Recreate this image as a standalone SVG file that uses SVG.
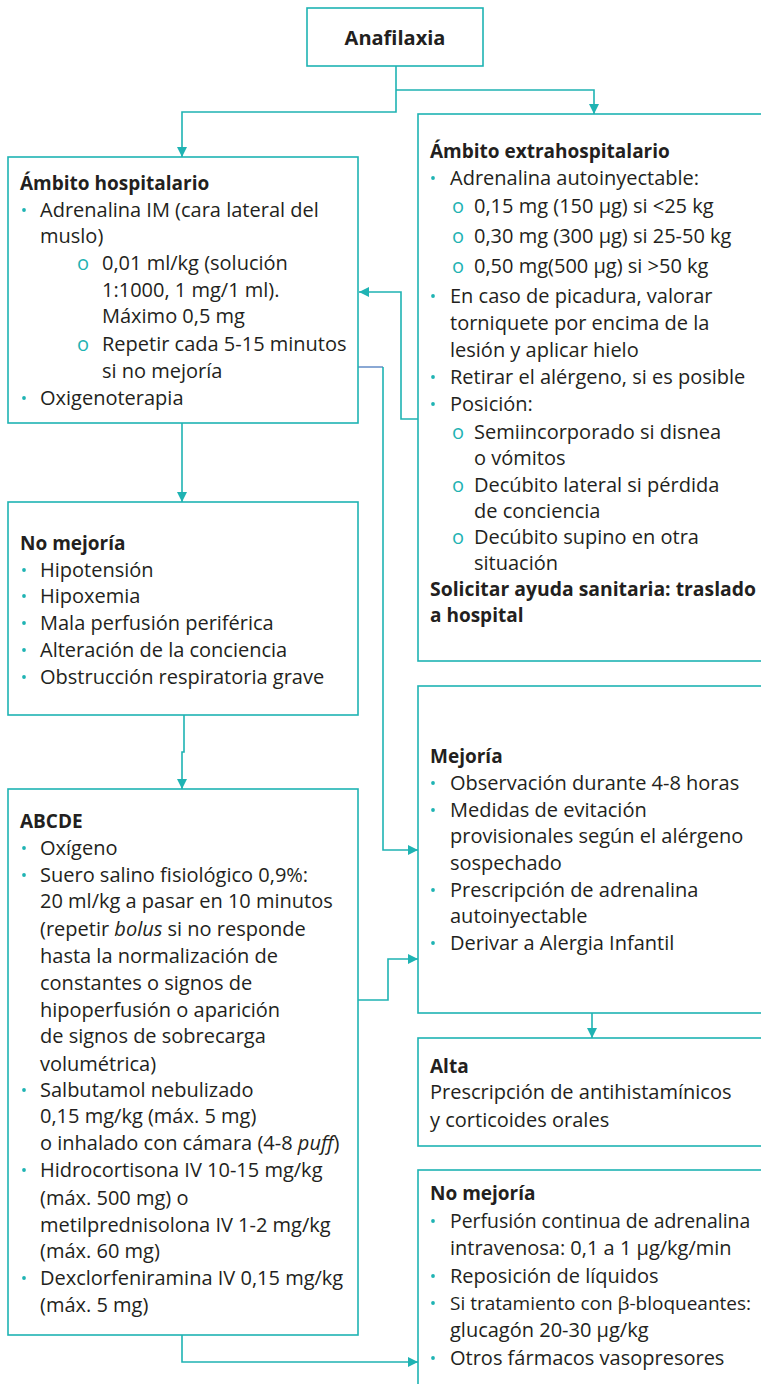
<svg xmlns="http://www.w3.org/2000/svg" width="761" height="1384" viewBox="0 0 761 1384">
<style>
.box{fill:#fff;stroke:#1fb3b3;stroke-width:1.6}
.c{fill:none;stroke:#1fb3b3;stroke-width:1.6}
.cb{fill:none;stroke:#3d6fb8;stroke-width:1.2}
text{font-family:"Open Sans","Noto Sans",sans-serif;font-size:20px;fill:#231f20}
.h{font-weight:700;font-size:19px}
.o{fill:#1fb3b3}
.d{fill:#1fb3b3}
</style>
<defs>
<marker id="ar" markerUnits="userSpaceOnUse" markerWidth="10" markerHeight="10" refX="10" refY="5" orient="auto">
<path d="M0,0 L10,5 L0,10 z" fill="#1fb3b3"/>
</marker>
</defs>

<g id="connectors">
<path class="c" d="M396,66 V112 H182 V157" marker-end="url(#ar)"/>
<path class="c" d="M396,90 H594 V114" marker-end="url(#ar)"/>
<path class="c" d="M418,419 H401 V292 H359" marker-end="url(#ar)"/>
<path class="cb" d="M358,367 H383"/>
<path class="c" d="M383,367 V850 H418" marker-end="url(#ar)"/>
<path class="c" d="M182,423 V502" marker-end="url(#ar)"/>
<path class="c" d="M184,715 V752 H182 V789" marker-end="url(#ar)"/>
<path class="c" d="M358,1000 H388 V959 H418" marker-end="url(#ar)"/>
<path class="c" d="M182,1335 V1362 H418" marker-end="url(#ar)"/>
<path class="c" d="M592,1013 V1038" marker-end="url(#ar)"/>
</g>

<g id="anafilaxia">
<rect class="box" x="307" y="8" width="176" height="58"/>
<text class="h" x="395" y="45" text-anchor="middle" style="font-size:20px">Anafilaxia</text>
</g>

<g id="hospitalario">
<rect class="box" x="8" y="157" width="350" height="266"/>
<text class="h" x="20" y="190">Ámbito hospitalario</text>
<circle class="d" cx="24" cy="210" r="1.9"/>
<text x="40" y="217">Adrenalina IM (cara lateral del</text>
<text x="40" y="243">muslo)</text>
<text class="o" x="77" y="270">o</text>
<text x="102" y="270">0,01 ml/kg (solución</text>
<text x="102" y="297">1:1000, 1 mg/1 ml).</text>
<text x="102" y="323">Máximo 0,5 mg</text>
<text class="o" x="77" y="351">o</text>
<text x="102" y="351">Repetir cada 5-15 minutos</text>
<text x="102" y="378">si no mejoría</text>
<circle class="d" cx="24" cy="398" r="1.9"/>
<text x="40" y="405">Oxigenoterapia</text>
</g>

<g id="extrahospitalario">
<rect class="box" x="418" y="114" width="360" height="547"/>
<text class="h" x="430" y="158">Ámbito extrahospitalario</text>
<circle class="d" cx="433" cy="178" r="1.9"/>
<text x="450" y="185">Adrenalina autoinyectable:</text>
<text class="o" x="452" y="213">o</text>
<text x="474" y="213">0,15 mg (150 μg) si  &lt;25 kg</text>
<text class="o" x="452" y="243">o</text>
<text x="474" y="243">0,30 mg (300 μg) si 25-50 kg</text>
<text class="o" x="452" y="273">o</text>
<text x="474" y="273">0,50 mg(500 μg) si &gt;50 kg</text>
<circle class="d" cx="433" cy="296" r="1.9"/>
<text x="450" y="303">En caso de picadura, valorar</text>
<text x="450" y="330">torniquete por encima de la</text>
<text x="450" y="357">lesión y aplicar hielo</text>
<circle class="d" cx="433" cy="377" r="1.9"/>
<text x="450" y="384">Retirar el alérgeno, si es posible</text>
<circle class="d" cx="433" cy="404" r="1.9"/>
<text x="450" y="411">Posición:</text>
<text class="o" x="452" y="439">o</text>
<text x="474" y="439">Semiincorporado si disnea</text>
<text x="474" y="465">o vómitos</text>
<text class="o" x="452" y="492">o</text>
<text x="474" y="492">Decúbito lateral si pérdida</text>
<text x="474" y="518">de conciencia</text>
<text class="o" x="452" y="544">o</text>
<text x="474" y="544">Decúbito supino en otra</text>
<text x="474" y="570">situación</text>
<text class="h" x="430" y="596" textLength="326" lengthAdjust="spacingAndGlyphs">Solicitar ayuda sanitaria: traslado</text>
<text class="h" x="430" y="622">a hospital</text>
</g>

<g id="no-mejoria-1">
<rect class="box" x="8" y="502" width="350" height="213"/>
<text class="h" x="20" y="550">No mejoría</text>
<circle class="d" cx="24" cy="570" r="1.9"/>
<text x="40" y="577">Hipotensión</text>
<circle class="d" cx="24" cy="596" r="1.9"/>
<text x="40" y="603">Hipoxemia</text>
<circle class="d" cx="24" cy="623" r="1.9"/>
<text x="40" y="630">Mala perfusión periférica</text>
<circle class="d" cx="24" cy="650" r="1.9"/>
<text x="40" y="657">Alteración de la conciencia</text>
<circle class="d" cx="24" cy="677" r="1.9"/>
<text x="40" y="684">Obstrucción respiratoria grave</text>
</g>

<g id="abcde">
<rect class="box" x="8" y="789" width="350" height="546"/>
<text class="h" x="20" y="828">ABCDE</text>
<circle class="d" cx="24" cy="848" r="1.9"/>
<text x="40" y="855">Oxígeno</text>
<circle class="d" cx="24" cy="875" r="1.9"/>
<text x="40" y="882">Suero salino fisiológico 0,9%:</text>
<text x="40" y="908">20 ml/kg a pasar en 10 minutos</text>
<text x="40" y="936">(repetir <tspan font-style="italic">bolus</tspan> si no responde</text>
<text x="40" y="963">hasta la normalización de</text>
<text x="40" y="990">constantes o signos de</text>
<text x="40" y="1017">hipoperfusión o aparición</text>
<text x="40" y="1043">de signos de sobrecarga</text>
<text x="40" y="1071">volumétrica)</text>
<circle class="d" cx="24" cy="1090" r="1.9"/>
<text x="40" y="1097">Salbutamol nebulizado</text>
<text x="40" y="1123">0,15 mg/kg (máx. 5 mg)</text>
<text x="40" y="1150">o inhalado con cámara (4-8 <tspan font-style="italic">puff</tspan>)</text>
<circle class="d" cx="24" cy="1170" r="1.9"/>
<text x="40" y="1177">Hidrocortisona IV 10-15 mg/kg</text>
<text x="40" y="1205">(máx. 500 mg) o</text>
<text x="40" y="1232">metilprednisolona IV 1-2 mg/kg</text>
<text x="40" y="1258">(máx. 60 mg)</text>
<circle class="d" cx="24" cy="1278" r="1.9"/>
<text x="40" y="1285">Dexclorfeniramina IV 0,15 mg/kg</text>
<text x="40" y="1312">(máx. 5 mg)</text>
</g>

<g id="mejoria">
<rect class="box" x="418" y="686" width="360" height="327"/>
<text class="h" x="430" y="763">Mejoría</text>
<circle class="d" cx="433" cy="783" r="1.9"/>
<text x="450" y="790">Observación durante 4-8 horas</text>
<circle class="d" cx="433" cy="810" r="1.9"/>
<text x="450" y="817">Medidas de evitación</text>
<text x="450" y="843">provisionales según el alérgeno</text>
<text x="450" y="870">sospechado</text>
<circle class="d" cx="433" cy="890" r="1.9"/>
<text x="450" y="897">Prescripción de adrenalina</text>
<text x="450" y="923">autoinyectable</text>
<circle class="d" cx="433" cy="943" r="1.9"/>
<text x="450" y="950">Derivar a Alergia Infantil</text>
</g>

<g id="alta">
<rect class="box" x="418" y="1038" width="360" height="108"/>
<text class="h" x="430" y="1073">Alta</text>
<text x="430" y="1099">Prescripción de antihistamínicos</text>
<text x="430" y="1127">y corticoides orales</text>
</g>

<g id="no-mejoria-2">
<rect class="box" x="418" y="1170" width="360" height="230"/>
<text class="h" x="430" y="1200">No mejoría</text>
<circle class="d" cx="433" cy="1221" r="1.9"/>
<text x="450" y="1228" style="font-size:19.4px">Perfusión continua de adrenalina</text>
<text x="450" y="1255">intravenosa: 0,1 a 1 μg/kg/min</text>
<circle class="d" cx="433" cy="1276" r="1.9"/>
<text x="450" y="1283">Reposición de líquidos</text>
<circle class="d" cx="433" cy="1303" r="1.9"/>
<text x="450" y="1310" style="font-size:19px">Si tratamiento con β-bloqueantes:</text>
<text x="450" y="1337">glucagón 20-30 μg/kg</text>
<circle class="d" cx="433" cy="1358" r="1.9"/>
<text x="450" y="1365">Otros fármacos vasopresores</text>
</g>
</svg>
